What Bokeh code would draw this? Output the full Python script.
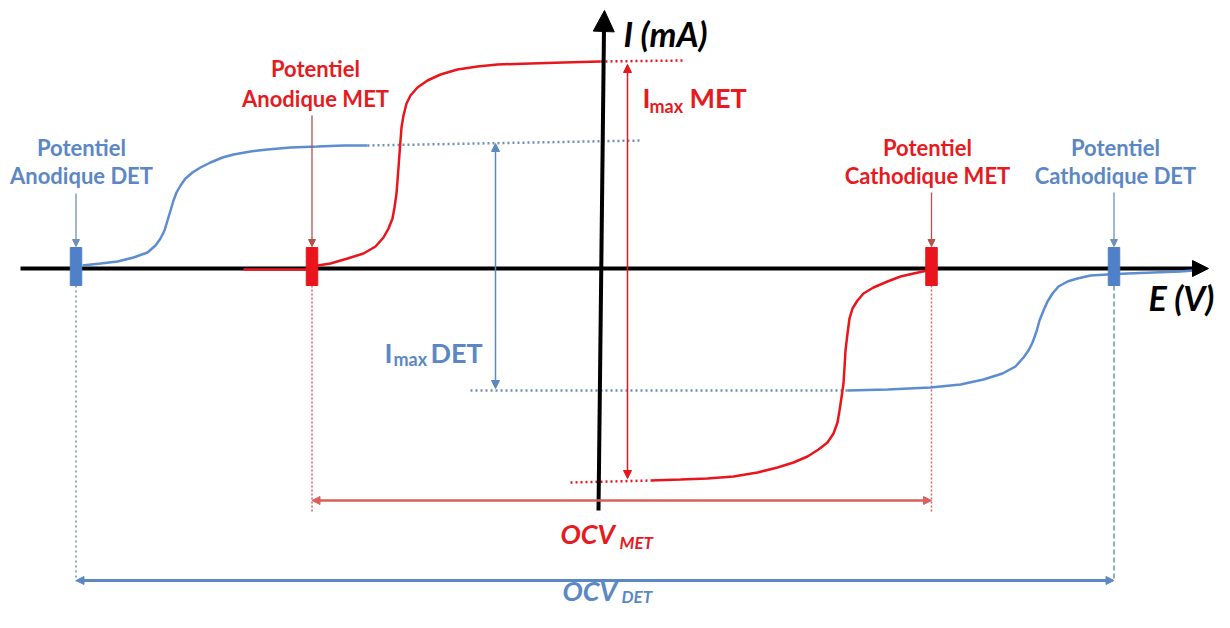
from bokeh.plotting import figure
from bokeh.models import Range1d, Arrow, NormalHead
from bokeh.core.properties import value
from bokeh.embed import file_html
from bokeh.resources import INLINE

# ---------------- data (E in V, I in mA, schematic units) ----------------
# DET (blue) anodic wave
det_anod_E = [-5.18, -5.00, -4.83, -4.67, -4.53, -4.45, -4.40, -4.36, -4.33, -4.30, -4.27, -4.24, -4.20,
              -4.15, -4.08, -4.00, -3.90, -3.78, -3.67, -3.50, -3.33, -3.10, -2.83, -2.57, -2.33]
det_anod_I = [0.03, 0.05, 0.07, 0.11, 0.16, 0.23, 0.30, 0.38, 0.48, 0.58, 0.68, 0.76, 0.83,
              0.90, 0.96, 1.01, 1.06, 1.11, 1.14, 1.17, 1.19, 1.21, 1.22, 1.23, 1.23]
# DET (blue) cathodic wave
det_cath_E = [2.47, 2.87, 3.30, 3.60, 3.83, 4.02, 4.15, 4.23, 4.28, 4.32, 4.36, 4.39, 4.43, 4.47,
              4.52, 4.58, 4.67, 4.77, 4.90, 5.07, 5.27, 5.53, 5.80, 5.93]
det_cath_I = [-1.22, -1.21, -1.19, -1.16, -1.11, -1.05, -0.98, -0.89, -0.82, -0.74, -0.63, -0.52, -0.42, -0.33,
              -0.25, -0.18, -0.13, -0.10, -0.07, -0.06, -0.05, -0.04, -0.03, -0.02]
# MET (red) anodic wave
met_anod_E = [-3.57, -2.95, -2.83, -2.70, -2.53, -2.37, -2.25, -2.17, -2.12, -2.08, -2.06, -2.04, -2.03, -2.02,
              -2.01, -2.00, -1.99, -1.97, -1.94, -1.90, -1.83, -1.73, -1.60, -1.43, -1.23, -1.03, -0.70, -0.37, 0.00]
met_anod_I = [-0.01, -0.01, 0.03, 0.05, 0.10, 0.15, 0.22, 0.31, 0.40, 0.50, 0.61, 0.75, 0.88, 1.01,
              1.15, 1.28, 1.41, 1.53, 1.65, 1.73, 1.81, 1.88, 1.94, 1.99, 2.02, 2.04, 2.05, 2.06, 2.07]
# MET (red) cathodic wave
met_cath_E = [0.50, 0.80, 1.07, 1.33, 1.57, 1.77, 1.93, 2.07, 2.18, 2.27, 2.33, 2.37, 2.39, 2.41,
              2.43, 2.44, 2.45, 2.47, 2.49, 2.52, 2.57, 2.63, 2.73, 2.87, 3.00, 3.13, 3.27]
met_cath_I = [-2.12, -2.11, -2.10, -2.08, -2.04, -1.99, -1.94, -1.88, -1.81, -1.74, -1.65, -1.54, -1.42, -1.29,
              -1.15, -0.99, -0.82, -0.65, -0.50, -0.40, -0.32, -0.25, -0.19, -0.13, -0.08, -0.05, -0.02]

# characteristic potentials
pot_names = ["Anodique DET", "Anodique MET", "Cathodique MET", "Cathodique DET"]
pot_E = [-5.245, -2.885, 3.31, 5.135]
# plateau currents
imax_met_top, imax_met_bot = 2.07, -2.12
imax_det_top, imax_det_bot = 1.23, -1.22

# ---------------- style ----------------
RED = "#ea151c"
RED_TXT = "#e51b1f"
RED_DARK = "#b5524e"
RED_SOFT = "#d9605b"
BLUE = "#5b8dd0"
BLUE_TXT = "#5b87c5"
BLUE_MARK = "#4f80c8"
BLUE_GRAY = "#6f8fb8"
FONT = value("Lato")

p = figure(width=1214, height=612,
           x_range=Range1d(-6.00, 6.14), y_range=Range1d(-3.44, 2.68),
           x_axis_type=None, y_axis_type=None,
           output_backend="svg", toolbar_location=None,
           min_border=0, min_border_left=0, min_border_right=0,
           min_border_top=0, min_border_bottom=0)
p.grid.visible = False
p.outline_line_color = None
p.background_fill_color = "white"

# ---------- dotted vertical guides ----------
p.segment(x0=[pot_E[0]], y0=[-0.17], x1=[pot_E[0]], y1=[-3.13], line_color=BLUE_GRAY, line_width=1.5, line_dash="2 3")
p.segment(x0=[pot_E[1], pot_E[2]], y0=[-0.17, -0.17], x1=[pot_E[1], pot_E[2]], y1=[-2.44, -2.44],
          line_color=RED_SOFT, line_width=1.5, line_dash="2 2")
p.segment(x0=[pot_E[3]], y0=[-0.17], x1=[pot_E[3]], y1=[-3.13], line_color=BLUE_GRAY, line_width=1.5, line_dash="5 3")

# ---------- dotted plateau extensions ----------
p.line([det_anod_E[-1], 0.42], [det_anod_I[-1], 1.28], line_color=BLUE_GRAY, line_width=2.5, line_dash="2 3")
p.line([met_anod_E[-1], 0.83], [imax_met_top, 2.08], line_color=RED, line_width=2.5, line_dash="2 3")
p.line([-1.30, det_cath_E[0]], [imax_det_bot, imax_det_bot], line_color=BLUE_GRAY, line_width=2.5, line_dash="2 3")
p.line([-0.30, met_cath_E[0]], [-2.14, met_cath_I[0]], line_color=RED, line_width=2.5, line_dash="2 3")

# ---------- axes ----------
p.line([-5.80, 5.96], [0.0, 0.0], line_color="black", line_width=4)
p.add_layout(Arrow(end=NormalHead(size=16, fill_color="black", line_color="black"),
                   x_start=5.90, y_start=0.0, x_end=6.08, y_end=0.0, line_alpha=0))
p.line([-0.02, 0.035], [-2.42, 2.40], line_color="black", line_width=4)
p.add_layout(Arrow(end=NormalHead(size=21, fill_color="black", line_color="black"),
                   x_start=0.03, y_start=2.30, x_end=0.04, y_end=2.58, line_alpha=0))

# ---------- curves ----------
p.line(det_anod_E, det_anod_I, line_color=BLUE, line_width=2.5)
p.line(det_cath_E, det_cath_I, line_color=BLUE, line_width=2.5)
p.line(met_anod_E, met_anod_I, line_color=RED, line_width=2.5)
p.line(met_cath_E, met_cath_I, line_color=RED, line_width=2.5)

# ---------- potential markers ----------
mark_col = [BLUE_MARK, RED, RED, BLUE_MARK]
p.rect(x=pot_E, y=[0.02] * 4, width=0.115, height=0.38, fill_color=mark_col, line_color=mark_col)

# ---------- pointer arrows from labels ----------
ptr_start = [0.75, 1.53, 0.76, 0.76]
ptr_col = [BLUE_GRAY, RED_DARK, RED_DARK, BLUE_GRAY]
for e, s, c in zip(pot_E, ptr_start, ptr_col):
    p.add_layout(Arrow(end=NormalHead(size=7, fill_color=c, line_color=c),
                       x_start=e, y_start=s, x_end=e, y_end=0.22, line_color=c, line_width=1.3))

# ---------- Imax arrows ----------
p.add_layout(Arrow(start=NormalHead(size=8, fill_color=RED, line_color=RED),
                   end=NormalHead(size=8, fill_color=RED, line_color=RED),
                   x_start=0.27, y_start=imax_met_top - 0.03, x_end=0.27, y_end=imax_met_bot + 0.02,
                   line_color=RED, line_width=1.5))
p.add_layout(Arrow(start=NormalHead(size=8, fill_color=BLUE_TXT, line_color=BLUE_TXT),
                   end=NormalHead(size=8, fill_color=BLUE_TXT, line_color=BLUE_TXT),
                   x_start=-1.05, y_start=imax_det_top + 0.02, x_end=-1.05, y_end=imax_det_bot + 0.02,
                   line_color=BLUE_TXT, line_width=1.5))

# ---------- OCV arrows ----------
p.add_layout(Arrow(start=NormalHead(size=8, fill_color=RED_SOFT, line_color=RED_SOFT),
                   end=NormalHead(size=8, fill_color=RED_SOFT, line_color=RED_SOFT),
                   x_start=pot_E[1], y_start=-2.32, x_end=pot_E[2], y_end=-2.32,
                   line_color=RED_SOFT, line_width=2.5))
p.add_layout(Arrow(start=NormalHead(size=8, fill_color=BLUE_TXT, line_color=BLUE_TXT),
                   end=NormalHead(size=8, fill_color=BLUE_TXT, line_color=BLUE_TXT),
                   x_start=pot_E[0], y_start=-3.12, x_end=pot_E[3], y_end=-3.12,
                   line_color=BLUE_TXT, line_width=3))

# ---------- texts ----------
lab_E = [-5.19, -2.85, 3.27, 5.15]
lab_I1 = [1.21, 2.00, 1.21, 1.21]
lab_I2 = [0.93, 1.70, 0.93, 0.93]
lab_col = [BLUE_TXT, RED_TXT, RED_TXT, BLUE_TXT]
p.text(x=lab_E, y=lab_I1, text=["Potentiel"] * 4, text_color=lab_col, text_font=FONT,
       text_font_style="bold", text_font_size="22px", text_align="center", text_baseline="alphabetic")
p.text(x=lab_E, y=lab_I2, text=pot_names, text_color=lab_col, text_font=FONT,
       text_font_style="bold", text_font_size="22px", text_align="center", text_baseline="alphabetic")

def txt(x, y, s, color, size, style="bold"):
    p.text(x=[x], y=[y], text=[s], text_color=color, text_font=FONT, text_font_style=style,
           text_font_size=size, text_align="left", text_baseline="alphabetic")

txt(0.23, 2.35, "I (mA)", "black", "34px", "bold italic")
txt(5.48, -0.29, "E (V)", "black", "34px", "bold italic")

txt(0.42, 1.71, "I", RED_TXT, "27px")
txt(0.49, 1.63, "max", RED_TXT, "18px")
txt(0.89, 1.71, "MET", RED_TXT, "27px")

txt(-2.16, -0.84, "I", BLUE_TXT, "27px")
txt(-2.07, -0.90, "max", BLUE_TXT, "18px")
txt(-1.70, -0.84, "DET", BLUE_TXT, "27px")

txt(-0.40, -2.65, "OCV", RED_TXT, "27px", "bold italic")
txt(0.19, -2.74, "MET", RED_TXT, "17px", "bold italic")
txt(-0.38, -3.22, "OCV", BLUE_TXT, "27px", "bold italic")
txt(0.21, -3.28, "DET", BLUE_TXT, "17px", "bold italic")

open("out.html", "w").write(file_html(p, INLINE))
